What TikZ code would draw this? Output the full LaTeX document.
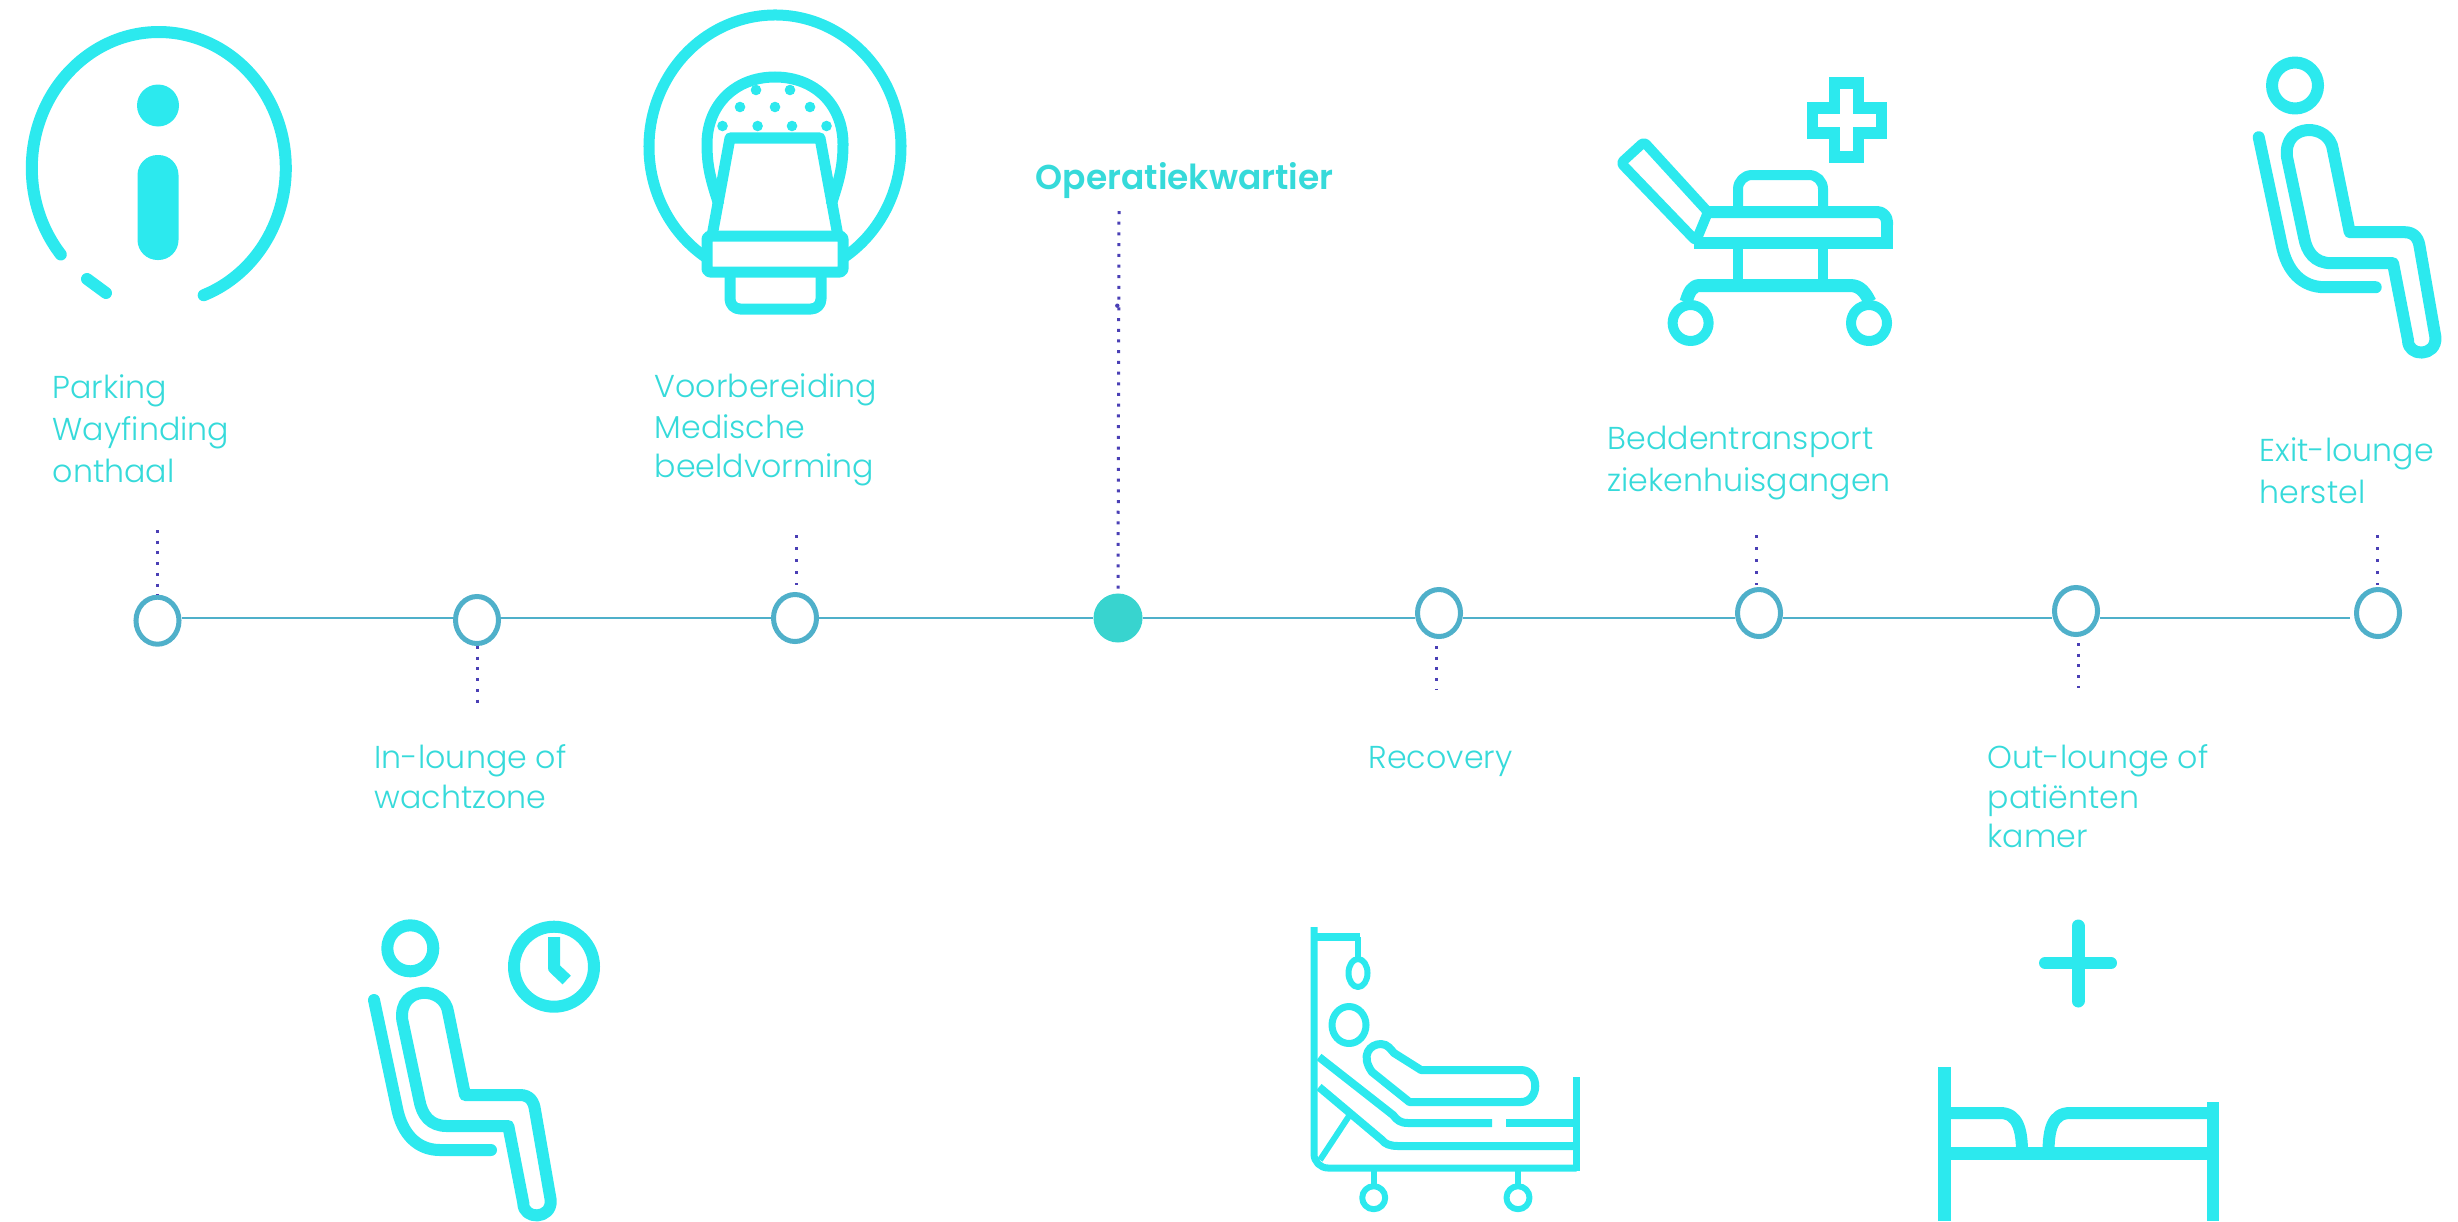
\documentclass[tikz,border=0pt]{standalone}
\usepackage{fontspec}
\usetikzlibrary{shapes.geometric}
\setmainfont{Poppins}[UprightFont=* Light,BoldFont=* SemiBold]
\definecolor{icon}{HTML}{2CE9EE}
\definecolor{txt}{HTML}{36DADA}
\definecolor{tline}{HTML}{4FB0CA}
\definecolor{tfill}{HTML}{38D4CF}
\definecolor{dotc}{HTML}{4A3FB5}
\tikzset{
  ic/.style={draw=icon,line width=#1*0.2845pt,line join=round},
  lab/.style={anchor=base west,inner sep=0pt,text=txt,font=\fontsize{9pt}{9pt}\selectfont},
  stop/.style={ellipse,draw=tline,fill=white,line width=5*0.2845pt,inner sep=0pt,minimum width=43*0.2845pt,minimum height=47*0.2845pt},
  stopf/.style={circle,fill=tfill,inner sep=0pt,minimum size=49*0.2845pt},
  tl/.style={draw=tline,line width=2.6*0.2845pt},
  dotl/.style={draw=dotc,line width=3*0.2845pt,dash pattern=on 3*0.2845pt off 7.7*0.2845pt},
}
\newcommand{\seated}{%
  \draw[ic=12] (410.3,948.3) circle[radius=23];
  \draw[ic=12] (465,1095) -- (520,1095) .. controls (530,1095) and (534,1102) .. (535,1110)
    -- (550.7,1200) .. controls (552,1220) and (523,1220) .. (523.3,1203)
    -- (508.3,1126) -- (446.7,1126) .. controls (430,1126) and (422,1115) .. (419.3,1100)
    -- (402.3,1020) .. controls (398,985) and (445,985) .. (448.3,1013) -- cycle;
  \draw[ic=12,line cap=round] (374,1000) -- (396.7,1106.7) .. controls (402,1135) and (418,1150) .. (440,1150) -- (491,1150);
}
\begin{document}
\begin{tikzpicture}[x=0.01cm,y=-0.01cm]
\useasboundingbox (0,0) rectangle (2458,1221);
% timeline
\coordinate (L) at (0,618);
\node[stop] (c1) at (157.5,620.7) {};
\node[stop] (c2) at (477,620) {};
\node[stop] (c3) at (795,618) {};
\node[stopf] (c4) at (1118,618) {};
\node[stop] (c5) at (1439,613) {};
\node[stop] (c6) at (1759,613) {};
\node[stop] (c7) at (2076,611) {};
\node[stop] (c8) at (2378,613) {};
\draw[tl] (c1.east |- L) -- (c2.west |- L);
\draw[tl] (c2.east |- L) -- (c3.west |- L);
\draw[tl] (c3.east |- L) -- (c4.west |- L);
\draw[tl] (c4.east |- L) -- (c5.west |- L);
\draw[tl] (c5.east |- L) -- (c6.west |- L);
\draw[tl] (c6.east |- L) -- (c7.west |- L);
\draw[tl,shorten >=4*0.2845pt] (c7.east |- L) -- (c8.west |- L);
% dotted
\coordinate (d1) at (157.5,530);
\coordinate (d2) at (477,707);
\coordinate (d3) at (796,535);
\coordinate (d4) at (1119,211);
\coordinate (d5) at (1436,646);
\coordinate (d5b) at (1436,690);
\coordinate (d6) at (1756,535);
\coordinate (d7) at (2078,643);
\coordinate (d7b) at (2078,688);
\coordinate (d8) at (2377,535);
\coordinate (d3b) at (796,585);
\coordinate (d6b) at (1756,585);
\coordinate (d8b) at (2377,585);
\draw[dotl] (d1) -- (c1.north);
\draw[dotl] (c2.south) -- (d2);
\draw[dotl,dash pattern=on 3*0.2845pt off 9*0.2845pt] (d3) -- (d3b);
\draw[dotl] (d4) -- (c4.north);
\fill[dotc] (1117.3,305.7) circle[radius=2.2];
\draw[dotl] (d5) -- (d5b);
\draw[dotl,dash pattern=on 3*0.2845pt off 9*0.2845pt] (d6) -- (d6b);
\draw[dotl] (d7) -- (d7b);
\draw[dotl,dash pattern=on 3*0.2845pt off 9*0.2845pt] (d8) -- (d8b);
% labels
\node[lab] (t1a) at (52,398) {Parking};
\node[lab] (t1b) at (52,440) {Wayfinding};
\node[lab] (t1c) at (52,482) {onthaal};
\node[lab] (t3a) at (654,397) {Voorbereiding};
\node[lab] (t3b) at (654,438) {Medische};
\node[lab] (t3c) at (654,477) {beeldvorming};
\node[lab] (t6a) at (1607,449) {Beddentransport};
\node[lab] (t6b) at (1607,491) {ziekenhuisgangen};
\node[lab] (t8a) at (2259,461) {Exit-lounge};
\node[lab] (t8b) at (2259,503) {herstel};
\node[lab] (t2a) at (374,768) {In-lounge of};
\node[lab] (t2b) at (374,808) {wachtzone};
\node[lab] (t5) at (1368,768) {Recovery};
\node[lab] (t7a) at (1987,768) {Out-lounge of};
\node[lab] (t7b) at (1987,808) {patiënten};
\node[lab] (t7c) at (1987,847) {kamer};
\node[lab,font=\fontsize{9.8pt}{9.8pt}\selectfont\bfseries] (t4) at (1035,189) {Operatiekwartier};
% info icon
\draw[ic=12,line cap=round] (158.8,168) ++(140.5:127 and 136) arc[start angle=140.5,end angle=429.3,x radius=127,y radius=136];
\draw[ic=12,line cap=round] (87,279) -- (106,293);
\fill[icon] (158,105.5) circle[radius=21];
\fill[icon,rounded corners=20*0.2845pt] (137.5,155) rectangle (178.5,260);
% MRI icon
\draw[ic=11] (775,147) ++(123:126 and 132) arc[start angle=123,end angle=417,x radius=126,y radius=132];
\draw[ic=11] (719,205) .. controls (710,178) and (707,165) .. (707,144) .. controls (707,105) and (735,77) .. (775,77)
  .. controls (815,77) and (843,105) .. (843,144) .. controls (843,165) and (840,178) .. (831,205);
\draw[ic=11] (712,236) -- (730,138) -- (820,138) -- (838,236);
\draw[ic=11,rounded corners=3*0.2845pt] (707,236) rectangle (843,272);
\draw[ic=11,rounded corners=10*0.2845pt] (730,272) -- (730,309) -- (821,309) -- (821,272);
\foreach \p in {(756,90),(790,90),(740,107),(775,107),(810,107),(722.5,126),(757.6,126),(792,126),(826.5,126)}
  \fill[icon] \p circle[radius=5.3];
% stretcher icon
\draw[ic=11,line join=miter] (1812,108) -- (1834.5,108) -- (1834.5,83) -- (1858,83) -- (1858,108) -- (1881,108) -- (1881,133) -- (1858,133) -- (1858,157) -- (1834.5,157) -- (1834.5,133) -- (1812,133) -- cycle;
\draw[ic=10,rounded corners=3*0.2845pt] (1696,241) -- (1621,163) -- (1644,142) -- (1708,212) -- cycle;
\draw[ic=12,rounded corners=10*0.2845pt] (1706,212) -- (1887,212) -- (1887,225);
\draw[ic=12,line join=miter] (1887,222) -- (1887,243) -- (1694,243);
\draw[ic=10,rounded corners=14*0.2845pt] (1738,212) -- (1738,175) -- (1823,175) -- (1823,212);
\draw[ic=10] (1738,243) -- (1738,285) (1823,243) -- (1823,285);
\draw[ic=13] (1686,302) .. controls (1689,292) and (1692,285.5) .. (1700,285.5) -- (1850,285.5) .. controls (1860,285.5) and (1865,292) .. (1870,302);
\draw[ic=10] (1690.6,323) circle[radius=18];
\draw[ic=10] (1869,323) circle[radius=18];
% seated with clock
\seated
\draw[ic=12] (554,966.7) circle[radius=40];
\draw[ic=12] (554,937) -- (554,968) -- (566.7,980);
% exit-lounge seated
\begin{scope}[shift={(1884.7,-862.8)}]
\seated
\end{scope}
% recovery bed
\draw[ic=7,rounded corners=14*0.2845pt] (1314,927) -- (1314,1168) -- (1576.5,1168);
\draw[ic=7] (1576.5,1171) -- (1576.5,1077);
\draw[ic=8] (1314,937) -- (1360,937);
\draw[ic=6] (1358,937) -- (1358,960);
\draw[ic=6] (1358,973) ellipse[x radius=9.5,y radius=14];
\draw[ic=7] (1349,1025) ellipse[x radius=17,y radius=18.5];
\draw[ic=8] (1421,1070) -- (1521,1070) .. controls (1540,1070) and (1540,1102) .. (1521,1102)
  -- (1409.4,1102) -- (1372,1072) .. controls (1360,1055) and (1370,1044) .. (1381,1044) .. controls (1388,1044) and (1391,1050) .. (1394,1053) -- cycle;
\draw[ic=8] (1319,1057) -- (1393,1115) .. controls (1397,1120) and (1400,1123) .. (1408,1123) -- (1492,1123);
\draw[ic=8] (1506,1123) -- (1575,1123);
\draw[ic=8] (1319,1087) -- (1382,1140) .. controls (1385,1144) and (1390,1146) .. (1398,1146) -- (1575,1146);
\draw[ic=6] (1351,1113) -- (1320,1160);
\draw[ic=6] (1373.7,1168) -- (1373.7,1186) (1518,1168) -- (1518,1186);
\draw[ic=6] (1373.7,1197.7) circle[radius=11.5];
\draw[ic=6] (1518,1197.7) circle[radius=11.5];
% bed with plus
\draw[ic=13,line cap=round] (2078,926) -- (2078,1001);
\draw[ic=12,line cap=round] (2045,963) -- (2111,963);
\draw[ic=13] (1944,1067) -- (1944,1221);
\draw[ic=12] (2213,1102) -- (2213,1221);
\draw[ic=13] (1944,1153) -- (2213,1153);
\draw[ic=12] (1944,1113) -- (2000,1113) .. controls (2018,1113) and (2022,1130) .. (2022,1153);
\draw[ic=12] (2213,1113) -- (2070,1113) .. controls (2052,1113) and (2048.5,1130) .. (2048.5,1153);
\end{tikzpicture}
\end{document}
